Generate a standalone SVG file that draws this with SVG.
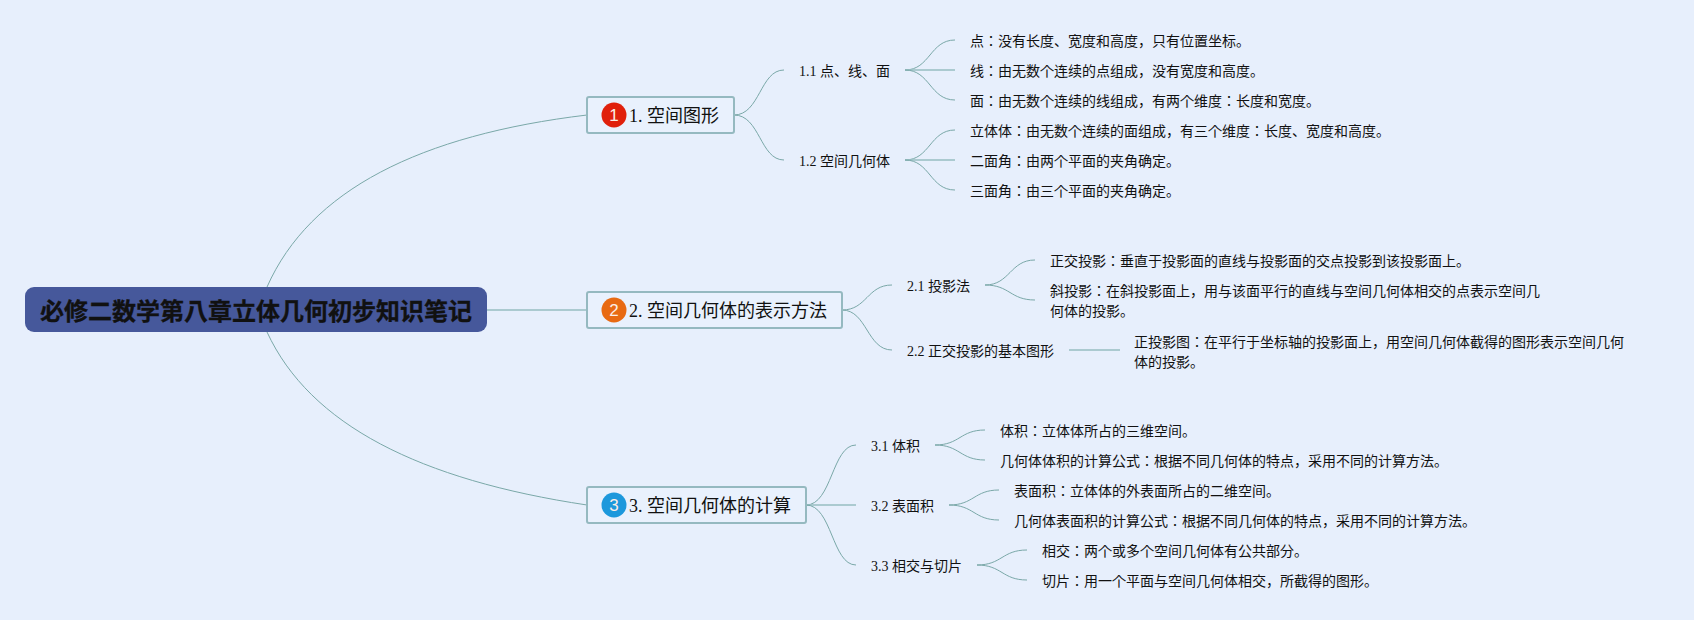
<svg xmlns="http://www.w3.org/2000/svg" width="1694" height="620" viewBox="0 0 1694 620">
<style>
text{font-family:"Liberation Serif","Noto Sans CJK JP",sans-serif;fill:#111}
.l{font-size:14px}
.b{font-size:18px}
.s{font-size:14px}
.c{fill:none;stroke:#7aa8a8;stroke-width:1}
.h{fill:none;stroke:#97bec2;stroke-width:1.5}
.box{fill:#e9f1fd;stroke:#95b9c0;stroke-width:2}
.n{font-family:"Liberation Sans",sans-serif;font-size:17px;fill:#fbeee6;text-anchor:middle}
</style>
<rect width="1694" height="620" fill="#e7effc"/>
<g id="connectors">
<path class="c" d="M267 287C310 190 420 135 587 115"/>
<path class="c" d="M267 332C310 425 420 480 587 505"/>
<path class="h" d="M487 310H587"/>
<path class="c" d="M734 115C760 115 760 70 784 70"/>
<path class="c" d="M734 115C760 115 760 160 784 160"/>
<path class="c" d="M905 70C930 70 930 40 955 40"/>
<path class="h" d="M905 70H955"/>
<path class="c" d="M905 70C930 70 930 100 955 100"/>
<path class="c" d="M905 160C930 160 930 130 955 130"/>
<path class="h" d="M905 160H955"/>
<path class="c" d="M905 160C930 160 930 190 955 190"/>
<path class="c" d="M842 310C867 310 867 285 892 285"/>
<path class="c" d="M842 310C867 310 867 350 892 350"/>
<path class="c" d="M985 285C1010 285 1010 260 1035 260"/>
<path class="c" d="M985 285C1010 285 1010 300 1035 300"/>
<path class="h" d="M1069 350H1120"/>
<path class="c" d="M806 505C832 505 832 445 856 445"/>
<path class="h" d="M806 505H856"/>
<path class="c" d="M806 505C832 505 832 565 856 565"/>
<path class="c" d="M935 445C960 445 960 430 985 430"/>
<path class="c" d="M935 445C960 445 960 460 985 460"/>
<path class="c" d="M949 505C974 505 974 490 999 490"/>
<path class="c" d="M949 505C974 505 974 520 999 520"/>
<path class="c" d="M977 565C1002 565 1002 550 1027 550"/>
<path class="c" d="M977 565C1002 565 1002 580 1027 580"/>
</g>
<g id="root"><rect x="25" y="287" width="462" height="45" rx="9" fill="#46589b"/><text x="40" y="320" font-size="24" font-weight="700" stroke="#111" stroke-width="0.3">必修二数学第八章立体几何初步知识笔记</text></g>
<g id="b1"><rect class="box" x="587" y="97" width="147" height="36" rx="2"/><circle cx="614" cy="115" r="12.5" fill="#e0200c"/><text class="n" x="614" y="121">1</text><text class="b" x="629" y="122">1. 空间图形</text></g>
<g id="b2"><rect class="box" x="587" y="292" width="255" height="36" rx="2"/><circle cx="614" cy="310" r="12.5" fill="#e86a12"/><text class="n" x="614" y="316">2</text><text class="b" x="629" y="317">2. 空间几何体的表示方法</text></g>
<g id="b3"><rect class="box" x="587" y="487" width="219" height="36" rx="2"/><circle cx="614" cy="505" r="12.5" fill="#1c98dc"/><text class="n" x="614" y="511">3</text><text class="b" x="629" y="512">3. 空间几何体的计算</text></g>
<g id="n11"><text class="s" x="799" y="76">1.1 点、线、面</text></g>
<g id="n12"><text class="s" x="799" y="166">1.2 空间几何体</text></g>
<g id="n21"><text class="s" x="907" y="291">2.1 投影法</text></g>
<g id="n22"><text class="s" x="907" y="356">2.2 正交投影的基本图形</text></g>
<g id="n31"><text class="s" x="871" y="451">3.1 体积</text></g>
<g id="n32"><text class="s" x="871" y="511">3.2 表面积</text></g>
<g id="n33"><text class="s" x="871" y="571">3.3 相交与切片</text></g>
<g id="l1"><text class="l" x="970" y="46">点：没有长度、宽度和高度，只有位置坐标。</text></g>
<g id="l2"><text class="l" x="970" y="76">线：由无数个连续的点组成，没有宽度和高度。</text></g>
<g id="l3"><text class="l" x="970" y="106">面：由无数个连续的线组成，有两个维度：长度和宽度。</text></g>
<g id="l4"><text class="l" x="970" y="136">立体体：由无数个连续的面组成，有三个维度：长度、宽度和高度。</text></g>
<g id="l5"><text class="l" x="970" y="166">二面角：由两个平面的夹角确定。</text></g>
<g id="l6"><text class="l" x="970" y="196">三面角：由三个平面的夹角确定。</text></g>
<g id="l7"><text class="l" x="1050" y="266">正交投影：垂直于投影面的直线与投影面的交点投影到该投影面上。</text></g>
<g id="l8"><text class="l" x="1050" y="296">斜投影：在斜投影面上，用与该面平行的直线与空间几何体相交的点表示空间几</text><text class="l" x="1050" y="316">何体的投影。</text></g>
<g id="l9"><text class="l" x="1134" y="347">正投影图：在平行于坐标轴的投影面上，用空间几何体截得的图形表示空间几何</text><text class="l" x="1134" y="367">体的投影。</text></g>
<g id="l10"><text class="l" x="1000" y="436">体积：立体体所占的三维空间。</text></g>
<g id="l11"><text class="l" x="1000" y="466">几何体体积的计算公式：根据不同几何体的特点，采用不同的计算方法。</text></g>
<g id="l12"><text class="l" x="1014" y="496">表面积：立体体的外表面所占的二维空间。</text></g>
<g id="l13"><text class="l" x="1014" y="526">几何体表面积的计算公式：根据不同几何体的特点，采用不同的计算方法。</text></g>
<g id="l14"><text class="l" x="1042" y="556">相交：两个或多个空间几何体有公共部分。</text></g>
<g id="l15"><text class="l" x="1042" y="586">切片：用一个平面与空间几何体相交，所截得的图形。</text></g>
</svg>
